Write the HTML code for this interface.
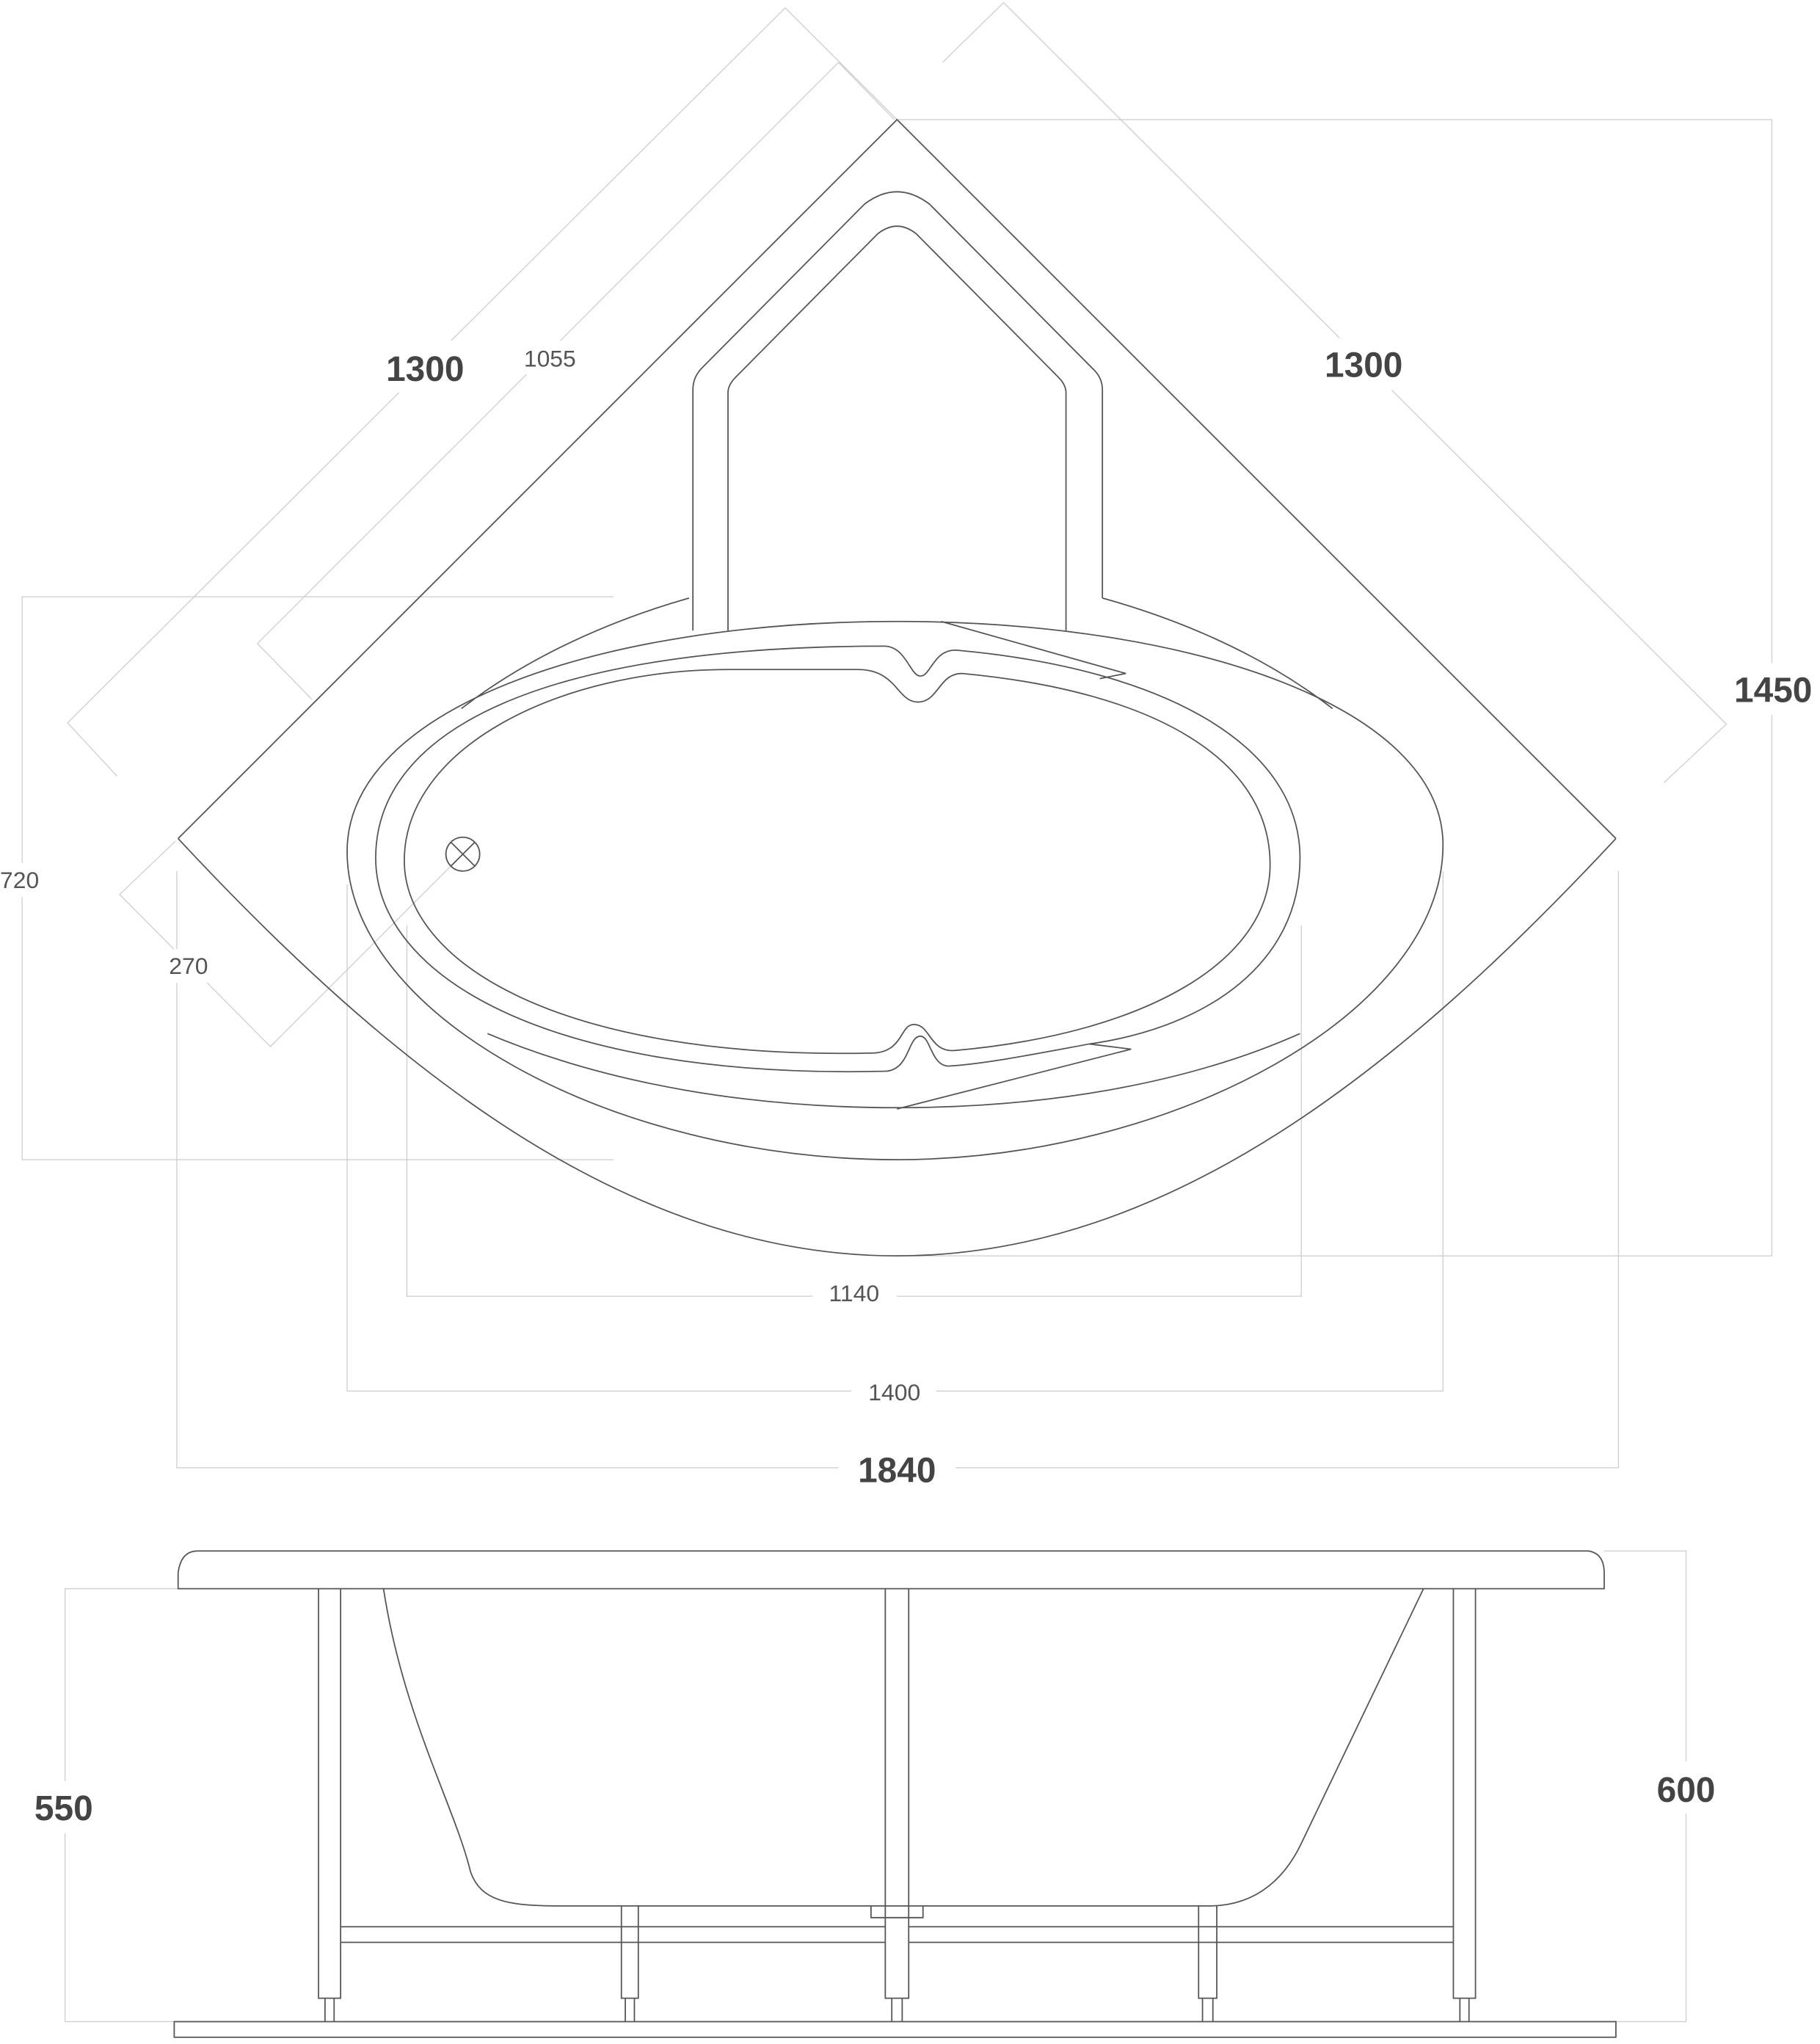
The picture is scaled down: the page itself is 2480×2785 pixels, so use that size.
<!DOCTYPE html>
<html><head><meta charset="utf-8"><style>
html,body{margin:0;padding:0;background:#fff}
svg{display:block}
.m{fill:none;stroke:#555;stroke-width:1}
.d{fill:none;stroke:#ccc;stroke-width:0.7}
.b{font-family:"Liberation Sans Narrow","Liberation Sans",sans-serif;font-weight:bold;font-size:27px;fill:#444;text-anchor:middle}
.t{font-family:"Liberation Sans",sans-serif;font-size:18px;fill:#555;text-anchor:middle}
.w{fill:#fff;stroke:none}
</style></head><body>
<svg width="2480" height="2785" viewBox="0 0 1400 1572.2" xmlns="http://www.w3.org/2000/svg">
<g class="d">
<path d="M604 6 L52 556 L90 597 M604 6 L690 92"/>
<path d="M645 48 L198 495 L240 538 M645 48 L688 92"/>
<path d="M772 2 L1328 557 L1280 602 M772 2 L725 48"/>
<path d="M690 92 H1363 V966 H690"/>
<path d="M472 459 H17 V892 H472"/>
<path d="M135 647 L92 688 L208 805 L356 657"/>
<path d="M313 712 V997 H1001 V712"/>
<path d="M267 680 V1070 H1110 V670"/>
<path d="M136 670 V1129 H1245 V670"/>
<path d="M137 1222 H50 V1555 H134"/>
<path d="M1234 1193 H1297 V1555 H1243"/>
</g>
<rect class="w" x="288" y="262" width="80" height="40"/>
<rect class="w" x="393" y="262" width="60" height="26"/>
<rect class="w" x="1010" y="260" width="80" height="40"/>
<rect class="w" x="1325" y="510" width="75" height="40"/>
<rect class="w" x="0" y="664" width="40" height="26"/>
<rect class="w" x="120" y="730" width="50" height="26"/>
<rect class="w" x="625" y="982" width="65" height="26"/>
<rect class="w" x="655" y="1058" width="65" height="26"/>
<rect class="w" x="645" y="1110" width="90" height="40"/>
<rect class="w" x="20" y="1370" width="60" height="40"/>
<rect class="w" x="1265" y="1355" width="65" height="40"/>
<g>
<text class="b" x="327" y="293">1300</text>
<text class="t" x="423" y="282">1055</text>
<text class="b" x="1049" y="290">1300</text>
<text class="b" x="1364" y="540">1450</text>
<text class="t" x="15" y="683">720</text>
<text class="t" x="145" y="749">270</text>
<text class="t" x="657" y="1001">1140</text>
<text class="t" x="688" y="1077">1400</text>
<text class="b" x="690" y="1140">1840</text>
<text class="b" x="49" y="1400">550</text>
<text class="b" x="1297" y="1386">600</text>
</g>
<g class="m">
<path d="M137 645 L690 92 L1243 645"/>
<path d="M137 645 C300 820 480 966 690 966 C900 966 1080 820 1243 645"/>
<path d="M533 485 V300 Q533 290 540 283 L665 157 Q690 138 715 157 L840 283 Q848 290 848 300 V460"/>
<path d="M560 485 V302 Q560 296 566 290 L675 180 Q690 168 705 180 L814 290 Q820 296 820 302 V485"/>
<path d="M690 478 C920 478 1110 545 1110 650 C1110 780 900 892 690 892 C470 892 267 780 267 655 C267 545 460 478 690 478 Z"/>
<path d="M530 460 C460 480 400 510 355 545"/>
<path d="M848 460 C920 480 980 510 1025 545"/>
<path d="M375 795 C470 835 580 852 690 852 C800 852 910 835 1000 795"/>
<!-- ring 2 -->
<path d="M680 497 C697 497 700 520 708 520 C716 520 718 500 735 500 C900 515 1000 575 1000 660 C1000 740 930 790 838 803 C800 810 760 818 730 820 C716 820 716 797 708 797 C698 797 700 824 680 824 C420 830 289 750 289 660 C289 560 420 497 680 497 Z"/>
<path d="M724 478 L866 518 L846 522"/>
<path d="M838 803 L870 807 L690 853"/>
<!-- ring 3 -->
<path d="M660 515 C690 515 690 540 706 540 C722 540 722 518 740 518 C890 532 977 585 977 665 C977 740 880 795 735 808 C715 810 716 788 703 788 C692 788 695 810 670 810 C430 815 311 740 311 662 C311 575 430 515 560 515 Z"/>
<circle cx="356" cy="657" r="13"/>
<path d="M347 648 L365 666 M365 648 L347 666"/>
</g>
<g class="m">
<path d="M137 1222 V1210 Q139 1193 152 1193 H1222 Q1234 1195 1234 1210 V1222 Z"/>
<rect x="134" y="1555" width="1109" height="12"/>
<path d="M245 1222 V1537 H262 V1222 M250 1537 V1555 M257 1537 V1555"/>
<path d="M681 1222 V1537 H699 V1222 M686 1537 V1555 M694 1537 V1555"/>
<path d="M1118 1222 V1537 H1135 V1222 M1123 1537 V1555 M1130 1537 V1555"/>
<path d="M478 1466 V1537 H491 V1466 M481 1537 V1555 M488 1537 V1555"/>
<path d="M922 1466 V1537 H936 V1466 M925 1537 V1555 M933 1537 V1555"/>
<path d="M262 1482 H681 M262 1494 H681 M699 1482 H1118 M699 1494 H1118"/>
<path d="M295 1222 C310 1320 350 1390 362 1440 C370 1462 390 1466 430 1466 H930 C970 1466 990 1440 1000 1420 L1095 1222"/>
<path d="M670 1466 V1475 H710 V1466"/>
</g>
</svg>
</body></html>
